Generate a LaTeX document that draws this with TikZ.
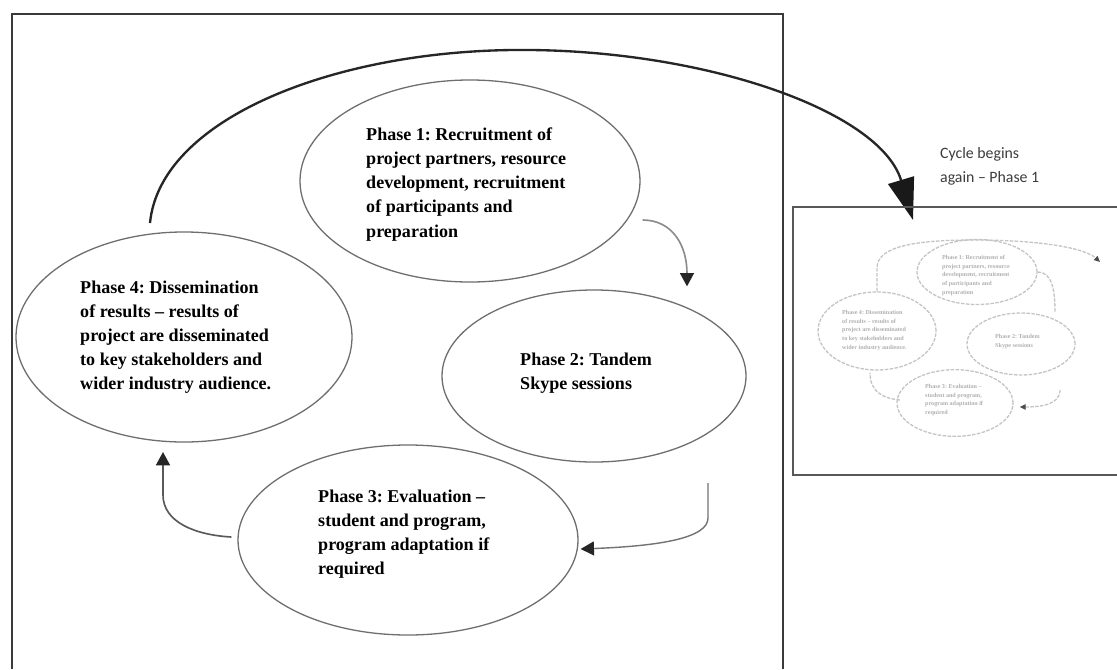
\documentclass[tikz,border=0pt]{standalone}
\usepackage{fontspec}
\setmainfont{Liberation Serif}
\newfontfamily\capfont{Carlito}
\usetikzlibrary{shapes.geometric,arrows.meta,calc}
\frenchspacing
\definecolor{framecol}{HTML}{3A3A3A}
\definecolor{ellcol}{HTML}{6E6E6E}
\definecolor{minicol}{HTML}{C4C4C4}
\definecolor{minitxt}{HTML}{B0B0B0}
\definecolor{capcol}{HTML}{3C3C3C}
\newcommand\phaseonetxt{Phase 1: Recruitment of\\project partners, resource\\development, recruitment\\of participants and\\preparation}
\newcommand\phasetwotxt{Phase 2: Tandem\\Skype sessions}
\newcommand\phasethreetxt{Phase 3: Evaluation –\\student and program,\\program adaptation if\\required}
\newcommand\phasefourtxt{Phase 4: Dissemination\\of results – results of\\project are disseminated\\to key stakeholders and\\wider industry audience.}
\begin{document}
\begin{tikzpicture}[x=0.03cm,y=-0.03cm,
  frameline/.style={draw=framecol,line width=1.4pt},
  boxline/.style={draw=framecol!85,line width=1.2pt},
  phase/.style={ellipse,draw=ellcol,line width=1.1pt,inner sep=0pt},
  phasetext/.style={anchor=north west,align=left,inner sep=0pt,
    font=\bfseries\fontsize{15.4}{20.5}\selectfont},
  bigarc/.style={draw=black!85,line width=2pt,
    -{Triangle[length=1.25cm,width=0.8cm,color=black!90]}},
  smallarrow/.style={line width=1.4pt,
    -{Triangle[length=0.4cm,width=0.42cm,color=black!85]}},
  mini/.style={ellipse,draw=minicol,line width=1.1pt,dash pattern=on 3pt off 1.2pt,inner sep=0pt},
  minitext/.style={anchor=north west,align=left,inner sep=0pt,text=minitxt,
    font=\bfseries\fontsize{5.2}{7.4}\selectfont},
  miniarrow/.style={draw=minicol,line width=1.1pt,dash pattern=on 3pt off 1.2pt},
  captext/.style={anchor=north west,align=left,inner sep=0pt,text=capcol,
    font=\capfont\fontsize{13.5}{20.5}\selectfont}]
\useasboundingbox (0,0) rectangle (1117,669);
\fill[white] (0,0) rectangle (1117,669);

% main frame (open at the bottom)
\draw[frameline] (12,669) -- (12,14) -- (783,14) -- (783,669);

% phase ellipses
\node[phase,minimum width=10.2cm,minimum height=6.06cm] (p1) at (470,181) {};
\node[phase,minimum width=9.12cm,minimum height=5.16cm] (p2) at (594,376) {};
\node[phase,minimum width=10.2cm,minimum height=5.7cm] (p3) at (408,540) {};
\node[phase,minimum width=10.08cm,minimum height=6.3cm] (p4) at (184,337) {};

% phase texts
\node[phasetext] (t1) at (366,128) {\phaseonetxt};
\node[phasetext] (t2) at (520,353) {\phasetwotxt};
\node[phasetext] (t3) at (318,490) {\phasethreetxt};
\node[phasetext] (t4) at (80,281) {\phasefourtxt};

% connector coordinates
\coordinate (arcS) at ($(p4.center)+(-34,-114)$);
\coordinate (arcE) at (913,220);
\coordinate (a12s) at ($(p1.east)+(2,39)$);
\coordinate (a12e) at ($(p2.north)+(93,-3)$);
\coordinate (a23s) at ($(p2.center)+(114,107)$);
\coordinate (a23e) at ($(p3.east)+(2,9)$);
\coordinate (a34s) at ($(p3.west)+(-6,-3)$);
\coordinate (a34e) at ($(p4.center)+(-21,115)$);

% big arc: cycle begins again
\draw[bigarc] (arcS) .. controls (160,120) and (330,52) .. (513,50)
  .. controls (700,48) and (880,110) .. (arcE);

% phase to phase arrows
\draw[smallarrow,draw=black!45] (a12s) .. controls (672,220) and (687,245) .. (a12e);
\draw[smallarrow,draw=black!55,line width=1.2pt] (a23s) -- (708,518)
  .. controls (708,538) and (660,546) .. (a23e);
\draw[smallarrow,draw=black!65] (a34s) .. controls (195,535) and (163,522) .. (163,495) -- (a34e);

% caption
\node[captext] (cap) at (940,147) {Cycle begins\\again – Phase 1};

% right box (miniature of the cycle)
\draw[boxline] (1117,207) -- (793,207) -- (793,475) -- (1117,475);

\node[mini,minimum width=3.6cm,minimum height=1.95cm] (m1) at (977,272) {};
\node[mini,minimum width=3.24cm,minimum height=1.86cm] (m2) at (1021,344) {};
\node[mini,minimum width=3.48cm,minimum height=2.0cm] (m3) at (955,403) {};
\node[mini,minimum width=3.54cm,minimum height=2.34cm] (m4) at (877,331) {};

\node[minitext] (mt1) at (942,255) {\phaseonetxt};
\node[minitext] (mt2) at (995,334) {\phasetwotxt};
\node[minitext] (mt3) at (925,384) {\phasethreetxt};
\node[minitext] (mt4) at (842,310) {\phasefourtxt};

\coordinate (marcE) at (1100,262);
\draw[miniarrow,-{Triangle[length=0.18cm,width=0.16cm,color=black!70]}]
  (m4.north) -- (877,268) .. controls (877,245) and (920,240) .. (975,240)
  .. controls (1040,240) and (1085,248) .. (marcE);
\draw[miniarrow] (m1.east) .. controls (1052,272) and (1055,290) .. (1055,312);
\draw[miniarrow,-{Triangle[length=0.18cm,width=0.16cm,color=black!70]}]
  (1060,390) .. controls (1060,405) and (1040,407) .. ($(m3.east)+(6,4)$);
\draw[miniarrow] (900,400) .. controls (880,398) and (870,390) .. ($(m4.south)+(-7,2)$);
\end{tikzpicture}
\end{document}
